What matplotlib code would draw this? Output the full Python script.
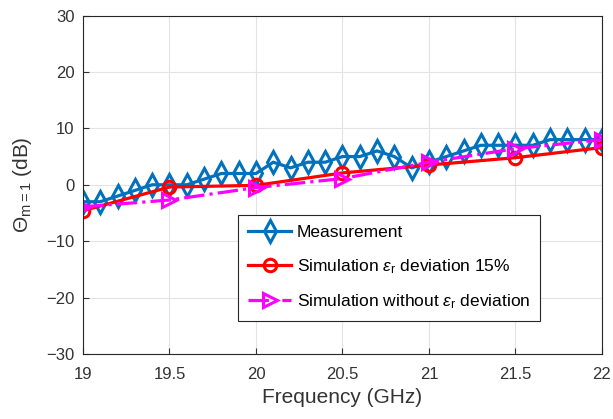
import numpy as np
import matplotlib.pyplot as plt

plt.rcParams['font.family'] = ['Liberation Sans', 'DejaVu Sans']
plt.rcParams['mathtext.fontset'] = 'custom'
plt.rcParams['mathtext.rm'] = 'Liberation Sans'
plt.rcParams['mathtext.it'] = 'Liberation Sans:italic'

# Measured data, 0.1 GHz steps
freq_meas = [19.0, 19.1, 19.2, 19.3, 19.4, 19.5, 19.6, 19.7, 19.8, 19.9, 20.0,
             20.1, 20.2, 20.3, 20.4, 20.5, 20.6, 20.7, 20.8, 20.9, 21.0,
             21.1, 21.2, 21.3, 21.4, 21.5, 21.6, 21.7, 21.8, 21.9, 22.0]
theta_meas = [-3, -3, -2, -1, 0, 0, 0, 1, 2, 2, 2,
              4, 3, 4, 4, 5, 5, 6, 5, 3, 4,
              5, 6, 7, 7, 7, 7, 8, 8, 8, 8]

# Simulations, 0.5 GHz steps
freq_sim = [19.0, 19.5, 20.0, 20.5, 21.0, 21.5, 22.0]
theta_sim_dev = [-4.6, -0.4, -0.1, 2.1, 3.5, 4.8, 6.6]
theta_sim_nodev = [-3.9, -2.7, -0.5, 1.1, 4.0, 6.4, 8.0]

fig = plt.figure(figsize=(6.13, 4.19), dpi=100)
ax = fig.add_axes([0.1354, 0.155, 0.8466, 0.808])

ax.plot(freq_meas, theta_meas, color='#0072BD', lw=2.3, marker='d', ms=11,
        mfc='none', mew=2.2, label='Measurement')
ax.plot(freq_sim, theta_sim_dev, color='red', lw=2.3, marker='o', ms=9,
        mfc='none', mew=2.2, label=r'Simulation $\epsilon_\mathrm{r}$ deviation 15%')
ax.plot(freq_sim, theta_sim_nodev, color='magenta', lw=2.3, ls='-.', marker='>', ms=10,
        mfc='none', mew=2.2, label=r'Simulation without $\epsilon_\mathrm{r}$ deviation')

ax.set_xlim(19, 22)
ax.set_ylim(-30, 30)
ax.set_xticks([19, 19.5, 20, 20.5, 21, 21.5, 22])
ax.set_xticklabels(['19', '19.5', '20', '20.5', '21', '21.5', '22'])
ax.set_yticks(np.arange(-30, 31, 10))
ax.grid(True, color='#e3e3e3', lw=0.8)
ax.set_axisbelow(True)
ax.tick_params(direction='in', labelsize=12, colors='#333333', length=4)
ax.tick_params(axis='x', pad=9)
ax.tick_params(axis='y', pad=6)
for s in ax.spines.values():
    s.set_color('#262626')
    s.set_linewidth(0.8)

ax.set_xlabel('Frequency (GHz)', fontsize=15, color='#333333', labelpad=5)
ax.set_ylabel(r'$\Theta_{\mathrm{m=1}}$ (dB)', fontsize=15, color='#333333', labelpad=9)

leg = ax.legend(loc='lower left', bbox_to_anchor=(0.298, 0.097), fontsize=12.5,
                fancybox=False, framealpha=1, edgecolor='#262626',
                handlelength=2.5, handletextpad=0.3, borderpad=0.6, labelspacing=0.95,
                borderaxespad=0)
leg.get_frame().set_linewidth(0.8)

fig.savefig('out.png', dpi=100)
